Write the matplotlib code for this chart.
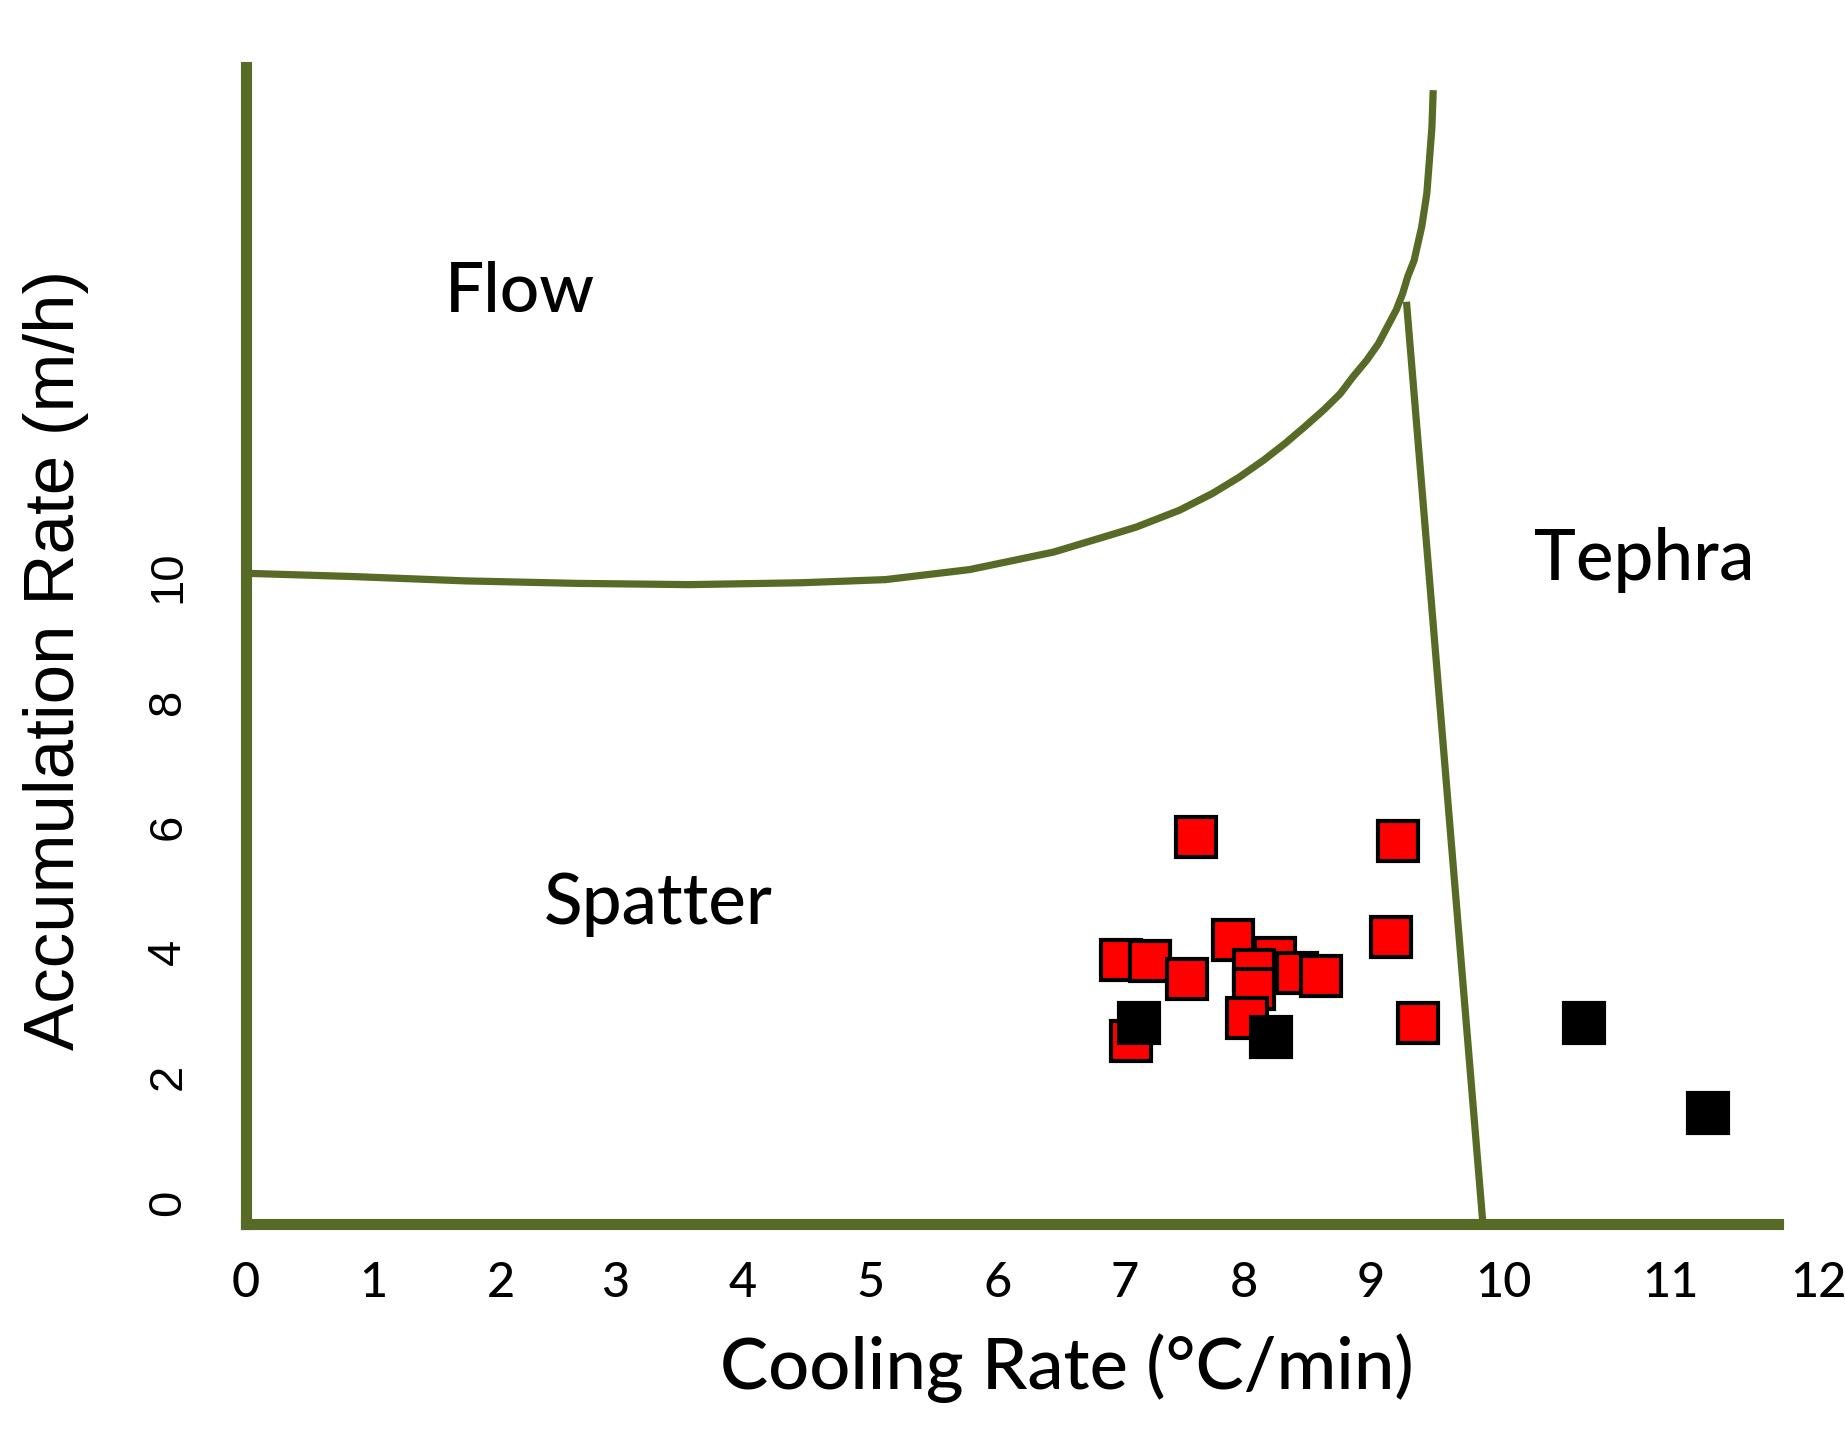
import numpy as np
import matplotlib
matplotlib.use("Agg")
import matplotlib.pyplot as plt

# field boundaries (cooling rate, accumulation rate)
flow_x = [0.02, 0.83, 1.72, 2.60, 3.48, 4.36, 5.02, 5.68, 6.34, 6.83, 6.99,
          7.33, 7.59, 7.80, 7.99, 8.16, 8.31, 8.46, 8.59, 8.69, 8.80, 8.89,
          8.96, 9.03, 9.08, 9.12, 9.17, 9.23, 9.27, 9.29, 9.31, 9.32]
flow_y = [10.05, 10.00, 9.93, 9.89, 9.87, 9.90, 9.95, 10.11, 10.39, 10.69,
          10.79, 11.06, 11.33, 11.59, 11.86, 12.13, 12.39, 12.66, 12.92, 13.19,
          13.46, 13.72, 13.99, 14.26, 14.52, 14.79, 15.05, 15.59, 16.12, 16.65,
          17.18, 17.77]
tephra_x = [9.11, 9.71]
tephra_y = [14.39, -0.34]

# samples
red_x = [7.75, 8.08, 7.91, 7.91, 7.86, 8.25, 8.44, 6.87, 7.10, 7.39,
         7.46, 9.04, 8.99, 9.20, 6.95]
red_y = [4.20, 3.90, 3.71, 3.41, 2.94, 3.67, 3.62, 3.87, 3.86, 3.57,
         5.83, 5.78, 4.24, 2.86, 2.58]
black_x = [7.01, 8.05, 10.50, 11.48]
black_y = [2.86, 2.65, 2.87, 1.43]

xtick_labels = ["0", "1", "2", "3", "4", "5", "6", "7", "8", "9", "10", "11", "12"]
xtick_pos = [0, 1, 2, 2.9, 3.9, 4.9, 5.9, 6.9, 7.83, 8.83, 9.87, 11.18, 12.34]
ytick_labels = ["0", "2", "4", "6", "8", "10"]
ytick_pos = [0, 2, 4, 6, 8, 10]

green = "#586b26"
hum = "Lato"

fig = plt.figure(figsize=(18.45, 14.35), dpi=100)
ax = fig.add_axes([0.13328, 0.14704, 0.8631, 0.80627])
ax.set_xlim(0, 12.5)
ax.set_ylim(-0.345, 18.14)

ax.plot(flow_x, flow_y, color=green, lw=5.2, solid_capstyle="butt",
        solid_joinstyle="round", zorder=2)
ax.plot(tephra_x, tephra_y, color=green, lw=5.2, solid_capstyle="butt", zorder=2)

for x, y in zip(red_x, red_y):
    ax.plot(x, y, marker="s", ms=28.5, mfc="#ff0000", mec="black", mew=3,
            ls="none", zorder=3, clip_on=False)
for x, y in zip(black_x, black_y):
    ax.plot(x, y, marker="s", ms=28.5, mfc="black", mec="black", mew=3,
            ls="none", zorder=4, clip_on=False)

ax.text(2.15, 14.54, "Flow", fontsize=50, family=hum, weight="medium",
        ha="center", va="center")
ax.text(3.24, 4.77, "Spatter", fontsize=51, family=hum, weight="medium",
        ha="center", va="center")
ax.text(10.98, 10.26, "Tephra", fontsize=51, family=hum, weight="medium",
        ha="center", va="center")

for s in ["top", "right"]:
    ax.spines[s].set_visible(False)
for s in ["left", "bottom"]:
    ax.spines[s].set_color(green)
    ax.spines[s].set_linewidth(8)
ax.spines["bottom"].set_bounds(0, 12.03)

ax.set_xticks(xtick_pos)
ax.set_xticklabels(xtick_labels, fontsize=35, family=hum, weight="medium")
ax.set_yticks(ytick_pos)
ax.set_yticklabels(ytick_labels, fontsize=34, family="Liberation Sans",
                   rotation=90, va="center")
ax.tick_params(axis="x", length=0, pad=27)
ax.tick_params(axis="y", length=0, pad=40)

ax.set_xlabel("Cooling Rate (°C/min)", fontsize=52, family=hum, weight="medium",
              va="center")
ax.xaxis.set_label_coords(0.5156, -0.1245)
ax.set_ylabel("Accumulation Rate (m/h)", fontsize=51, family="Liberation Sans",
              va="center")
ax.yaxis.set_label_coords(-0.1193, 0.4875)

fig.savefig("out.png", dpi=100)
